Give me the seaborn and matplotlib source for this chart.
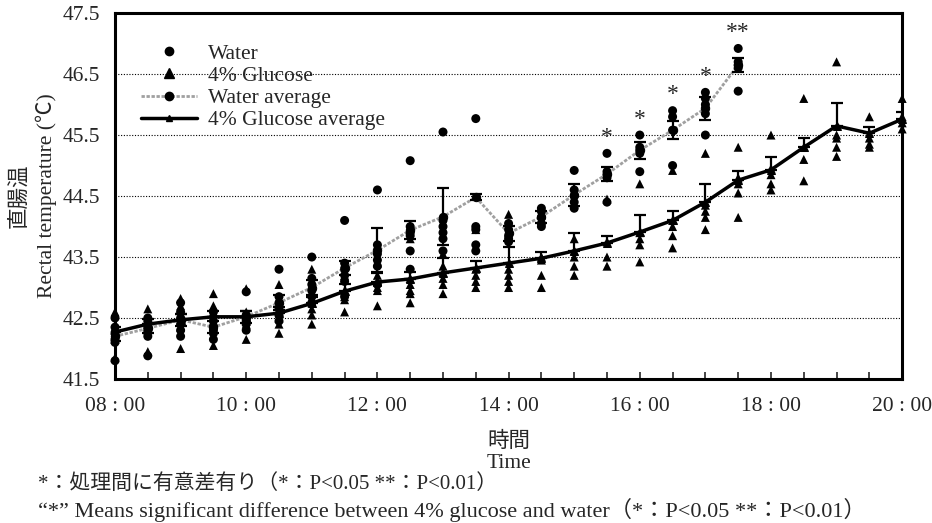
import matplotlib
matplotlib.use("Agg")
import matplotlib.pyplot as plt
from matplotlib.lines import Line2D
from matplotlib.ticker import MultipleLocator, FixedLocator
import seaborn as sns
import pandas as pd

# sampling times (every 30 min)
times = ["08:00", "08:30", "09:00", "09:30", "10:00", "10:30", "11:00", "11:30",
         "12:00", "12:30", "13:00", "13:30", "14:00", "14:30", "15:00", "15:30",
         "16:00", "16:30", "17:00", "17:30", "18:00", "18:30", "19:00", "19:30",
         "20:00"]
water_times = times[:20]

# individual birds, water group
water_points = [
    [42.5, 42.35, 42.25, 42.15, 42.1, 41.8],
    [42.5, 42.45, 42.35, 42.3, 42.2, 41.88],
    [42.75, 42.6, 42.5, 42.4, 42.3, 42.2],
    [42.6, 42.45, 42.35, 42.3, 42.25, 42.15],
    [42.93, 42.55, 42.5, 42.45, 42.4, 42.3],
    [43.3, 42.85, 42.75, 42.65, 42.55, 42.45],
    [43.5, 43.15, 43.05, 42.95, 42.85, 42.75],
    [44.1, 43.4, 43.3, 43.2, 43.1, 42.85],
    [44.6, 43.7, 43.55, 43.45, 43.35, 43.05],
    [45.08, 44.0, 43.9, 43.85, 43.6, 43.3],
    [45.55, 44.1, 44.0, 43.9, 43.8, 43.6],
    [45.77, 44.0, 43.95, 43.7, 43.6],
    [44.05, 43.95, 43.85, 43.8, 43.75],
    [44.3, 44.25, 44.15, 44.05, 44.0],
    [44.92, 44.6, 44.5, 44.4, 44.3],
    [45.2, 44.9, 44.85, 44.8, 44.4],
    [45.5, 45.3, 45.25, 45.2, 44.9],
    [45.9, 45.8, 45.58, 45.0],
    [46.2, 46.1, 46.0, 45.85, 45.5],
    [46.92, 46.7, 46.65, 46.6, 46.22],
]

# individual birds, 4% glucose group
glucose_points = [
    [42.6, 42.35, 42.3, 42.2, 42.15, 41.85],
    [42.65, 42.45, 42.4, 42.35, 42.3, 41.95],
    [42.82, 42.7, 42.55, 42.45, 42.35, 42.0],
    [42.9, 42.7, 42.6, 42.45, 42.4, 42.05],
    [42.98, 42.6, 42.5, 42.45, 42.4, 42.15],
    [43.05, 42.7, 42.6, 42.5, 42.4, 42.25],
    [43.3, 42.9, 42.75, 42.65, 42.55, 42.4],
    [43.4, 43.2, 42.95, 42.85, 42.8, 42.6],
    [43.4, 43.2, 43.1, 43.0, 42.95, 42.7],
    [43.8, 43.15, 43.05, 42.95, 42.9, 42.75],
    [43.55, 43.35, 43.25, 43.15, 43.05, 42.9],
    [43.95, 43.3, 43.2, 43.1, 43.0],
    [44.2, 43.3, 43.2, 43.1, 43.0],
    [43.5, 43.45, 43.2, 43.0],
    [43.8, 43.6, 43.5, 43.35, 43.2],
    [44.45, 43.75, 43.5, 43.35],
    [44.7, 43.9, 43.8, 43.7, 43.42],
    [44.92, 44.1, 44.0, 43.85, 43.65],
    [45.2, 44.35, 44.25, 44.15, 43.95],
    [45.3, 44.8, 44.7, 44.55, 44.15],
    [45.5, 44.95, 44.85, 44.7, 44.6],
    [46.1, 45.3, 45.1, 44.75],
    [46.7, 45.5, 45.45, 45.3, 45.15],
    [45.8, 45.45, 45.35, 45.3],
    [46.1, 45.8, 45.7, 45.6],
]

water_avg = [42.2, 42.33, 42.47, 42.35, 42.52, 42.75, 43.0, 43.32, 43.61, 43.94,
             44.16, 44.48, 43.89, 44.16, 44.52, 44.86, 45.25, 45.58, 45.94, 46.65]
water_se = [0.08, 0.08, 0.1, 0.1, 0.1, 0.12, 0.12, 0.12, 0.36, 0.15,
            0.47, 0.05, 0.12, 0.1, 0.18, 0.12, 0.14, 0.15, 0.19, 0.12]

glucose_avg = [42.27, 42.4, 42.47, 42.52, 42.52, 42.58, 42.74, 42.94, 43.09, 43.14,
               43.24, 43.32, 43.4, 43.48, 43.6, 43.73, 43.91, 44.1, 44.4, 44.76,
               44.93, 45.3, 45.65, 45.53, 45.76]
glucose_se = [0.08, 0.08, 0.1, 0.1, 0.1, 0.1, 0.1, 0.12, 0.15, 0.12,
              0.24, 0.12, 0.27, 0.1, 0.29, 0.12, 0.28, 0.15, 0.3, 0.15,
              0.21, 0.15, 0.37, 0.1, 0.12]

sig_times = ["15:30", "16:00", "16:30", "17:00", "17:30"]
sig_marks = ["*", "*", "*", "*", "**"]


def to_hours(t):
    h, m = t.split(":")
    return int(h) + int(m) / 60


rows = []
for t, vals in zip(water_times, water_points):
    for v in vals:
        rows.append({"hour": to_hours(t), "temp": v, "group": "Water"})
for t, vals in zip(times, glucose_points):
    for v in vals:
        rows.append({"hour": to_hours(t), "temp": v, "group": "4% Glucose"})
points = pd.DataFrame(rows)

water_df = pd.DataFrame({"hour": [to_hours(t) for t in water_times],
                         "temp": water_avg, "se": water_se})
glucose_df = pd.DataFrame({"hour": [to_hours(t) for t in times],
                           "temp": glucose_avg, "se": glucose_se})

sns.set_theme(style="white")
serif = ["Liberation Serif", "Noto Sans CJK JP"]
plt.rcParams["font.family"] = serif
plt.rcParams["font.size"] = 15

fig = plt.figure(figsize=(9.32, 5.23), dpi=100)
ax = fig.add_axes([0.1234, 0.2753, 0.8446, 0.6997])

# averages
sns.lineplot(data=water_df, x="hour", y="temp", ax=ax, color="#a0a0a0",
             linewidth=2.0, linestyle=(0, (1.2, 0.6)), marker="o",
             markersize=6, markerfacecolor="black", markeredgecolor="black",
             zorder=3, clip_on=False)
sns.lineplot(data=glucose_df, x="hour", y="temp", ax=ax, color="black",
             linewidth=2.5, marker="^", markersize=6, markeredgecolor="black",
             zorder=4, clip_on=False)
ax.errorbar(water_df["hour"], water_df["temp"], yerr=water_df["se"], fmt="none",
            ecolor="black", elinewidth=1.6, capsize=4, capthick=1.6, zorder=4)
ax.errorbar(glucose_df["hour"], glucose_df["temp"],
            yerr=[[0] * len(glucose_se), glucose_se], fmt="none",
            ecolor="black", elinewidth=1.6, capsize=4, capthick=1.6, zorder=4)

# individual values
sns.scatterplot(data=points, x="hour", y="temp", style="group",
                markers={"Water": "o", "4% Glucose": "^"}, color="black",
                s=42, linewidth=0, ax=ax, legend=False, zorder=5, clip_on=False)

# significance marks
for t, mark in zip(sig_times, sig_marks):
    i = water_times.index(t)
    ax.annotate(mark, (to_hours(t), max(water_points[i])), xytext=(0, 4),
                textcoords="offset points", ha="center", va="bottom", fontsize=17)

ax.set_xlim(8, 20)
ax.set_ylim(41.5, 47.5)
ax.set_yticks([41.5, 42.5, 43.5, 44.5, 45.5, 46.5, 47.5])
ax.set_yticklabels(["41.5", "42.5", "43.5", "44.5", "45.5", "46.5", "47.5"])
ax.xaxis.set_major_locator(FixedLocator(list(range(8, 21, 2))))
ax.set_xticklabels([f"{h:02d} : 00" for h in range(8, 21, 2)])
ax.xaxis.set_minor_locator(MultipleLocator(0.5))
ax.tick_params(axis="x", which="both", direction="in", length=5, width=1.2,
               bottom=True, pad=13, labelsize=15.5)
ax.tick_params(axis="y", which="both", direction="in", length=0,
               left=True, pad=11, labelsize=15.5)
ax.grid(axis="y", color="black", linestyle=(0, (1, 1.5)), linewidth=0.8)
for sp in ax.spines.values():
    sp.set_color("black")
    sp.set_linewidth(2.2)

ax.set_xlabel("時間\nTime", fontsize=15.5, linespacing=1.15, labelpad=11)
ax.set_ylabel("直腸温\nRectal temperature (℃)", fontsize=15.5, linespacing=1.35,
              labelpad=4)

handles = [
    Line2D([], [], linestyle="none", marker="o", color="black", markersize=6),
    Line2D([], [], linestyle="none", marker="^", color="black", markersize=7),
    Line2D([], [], color="#a0a0a0", linewidth=2, linestyle=(0, (1.2, 0.6)),
           marker="o", markerfacecolor="black", markeredgecolor="black", markersize=6),
    Line2D([], [], color="black", linewidth=2.5, marker="^", markersize=5),
]
labels = ["Water", "4% Glucose", "Water average", "4% Glucose average"]
ax.legend(handles, labels, loc="upper left", bbox_to_anchor=(0.022, 0.94),
          frameon=False, fontsize=15.5, handlelength=2.6, labelspacing=0.1,
          handletextpad=0.5, borderaxespad=0)

fig.text(0.041, 0.074, "*：処理間に有意差有り（*：P<0.05 **：P<0.01）",
         family=serif, fontsize=15, va="center")
fig.text(0.041, 0.024,
         "“*” Means significant difference between 4% glucose and water（*：P<0.05 **：P<0.01）",
         family=serif, fontsize=16, va="center")

fig.savefig("out.png", dpi=100)
